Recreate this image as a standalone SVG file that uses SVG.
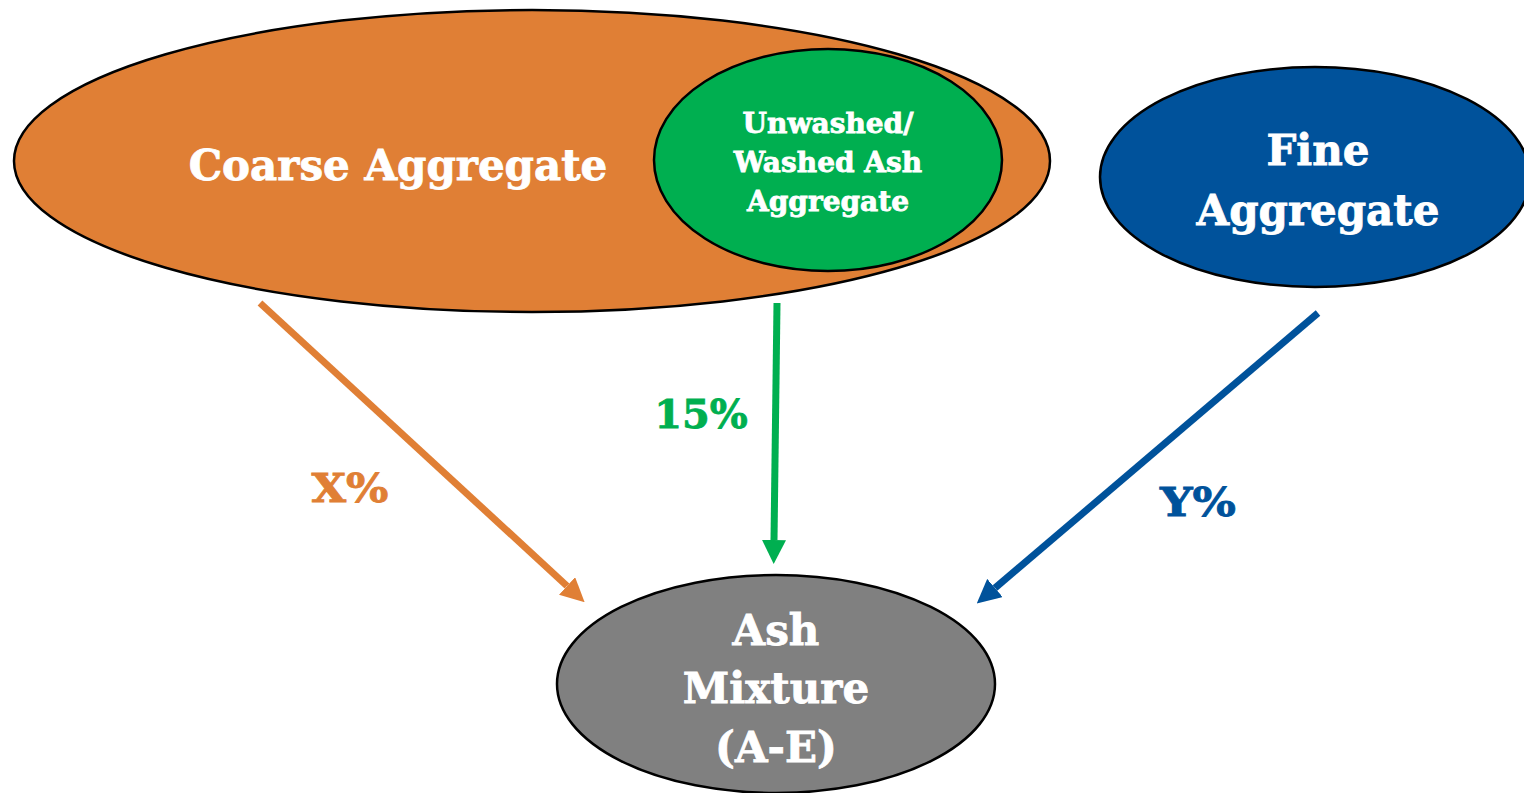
<svg xmlns="http://www.w3.org/2000/svg" width="1524" height="793" viewBox="0 0 1524 793">
  <defs>
    <style>
      .node { stroke: #000; stroke-width: 2.5; }
      .lbl { font-family: "DejaVu Serif", "Liberation Serif", serif; font-weight: bold; fill: #fff; stroke: #fff; stroke-width: 0.8; text-anchor: middle; }
      .pct { font-family: "DejaVu Serif", "Liberation Serif", serif; font-weight: bold; stroke-width: 0.8; text-anchor: middle; }
      .edge { fill: none; stroke-width: 7; }
    </style>
    <!-- arrowheads: base sits at the line end, tip extends 24px beyond -->
    <marker id="headOrange" viewBox="0 0 24 24" refX="0" refY="12" markerWidth="24" markerHeight="24" orient="auto" markerUnits="userSpaceOnUse">
      <path d="M0,0 L24,12 L0,24 z" fill="#E07F35"/>
    </marker>
    <marker id="headGreen" viewBox="0 0 24 24" refX="0" refY="12" markerWidth="24" markerHeight="24" orient="auto" markerUnits="userSpaceOnUse">
      <path d="M0,0 L24,12 L0,24 z" fill="#00AF50"/>
    </marker>
    <marker id="headBlue" viewBox="0 0 24 24" refX="0" refY="12" markerWidth="24" markerHeight="24" orient="auto" markerUnits="userSpaceOnUse">
      <path d="M0,0 L24,12 L0,24 z" fill="#00529B"/>
    </marker>
  </defs>
  <rect width="1524" height="793" fill="#fff"/>

  <g id="coarse-aggregate">
    <ellipse class="node" cx="532" cy="161" rx="518" ry="151" fill="#E07F35"/>
    <text class="lbl" x="398" y="180" font-size="42">Coarse Aggregate</text>
  </g>

  <g id="ash-aggregate">
    <ellipse class="node" cx="828" cy="160" rx="174" ry="111" fill="#00AF50"/>
    <text class="lbl" x="828" y="133" font-size="28">Unwashed/</text>
    <text class="lbl" x="828" y="172" font-size="28">Washed Ash</text>
    <text class="lbl" x="828" y="211" font-size="28">Aggregate</text>
  </g>

  <g id="fine-aggregate">
    <ellipse class="node" cx="1315" cy="177" rx="215" ry="110" fill="#00529B"/>
    <text class="lbl" x="1318" y="165" font-size="42">Fine</text>
    <text class="lbl" x="1318" y="225" font-size="42">Aggregate</text>
  </g>

  <g id="ash-mixture">
    <ellipse class="node" cx="776" cy="684" rx="219" ry="109" fill="#808080"/>
    <text class="lbl" x="776" y="645" font-size="42">Ash</text>
    <text class="lbl" x="776" y="703" font-size="42">Mixture</text>
    <text class="lbl" x="776" y="762" font-size="42">(A-E)</text>
  </g>

  <g id="connectors">
    <line class="edge" x1="260" y1="303" x2="567" y2="586" stroke="#E07F35" marker-end="url(#headOrange)"/>
    <line class="edge" x1="777" y1="303" x2="774" y2="540" stroke="#00AF50" marker-end="url(#headGreen)"/>
    <line class="edge" x1="1318" y1="313" x2="995" y2="588" stroke="#00529B" marker-end="url(#headBlue)"/>
    <text class="pct" x="350" y="502" font-size="40" fill="#E07F35" stroke="#E07F35" textLength="77" lengthAdjust="spacingAndGlyphs">X%</text>
    <text class="pct" x="701" y="428" font-size="40" fill="#00AF50" stroke="#00AF50">15%</text>
    <text class="pct" x="1198" y="516" font-size="40" fill="#00529B" stroke="#00529B" textLength="76" lengthAdjust="spacingAndGlyphs">Y%</text>
  </g>
</svg>
